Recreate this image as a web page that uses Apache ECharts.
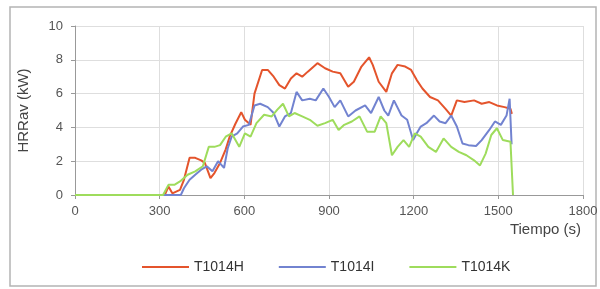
<!DOCTYPE html>
<html>
<head>
<meta charset="utf-8">
<script src="https://cdn.jsdelivr.net/npm/echarts@6/dist/echarts.min.js"></script>
<style>
	html, body { margin: 0; padding: 0; background: #fff; }
	#main { width: 600px; height: 289px; }
</style>
</head>
<body>
<div id="main"></div>
<script>
	// T1014H
	var tH = [0, 318, 331, 345, 372, 386, 406, 426, 447, 460, 480, 494, 514, 534, 548, 568, 589, 602, 622, 636, 663, 683, 704, 724, 744, 765, 785, 805, 825, 859, 886, 913, 940, 968, 988, 1015, 1042, 1055, 1076, 1103, 1123, 1143, 1170, 1191, 1211, 1231, 1258, 1286, 1313, 1333, 1353, 1380, 1414, 1441, 1468, 1495, 1522, 1543, 1548];
	var vH = [0, 0, 0.5, 0.1, 0.3, 0.9, 2.2, 2.2, 2.05, 1.9, 1.0, 1.3, 1.9, 2.7, 3.45, 4.2, 4.9, 4.45, 4.15, 6.0, 7.4, 7.4, 7.0, 6.5, 6.3, 6.9, 7.2, 7.0, 7.3, 7.8, 7.5, 7.3, 7.2, 6.4, 6.7, 7.6, 8.15, 7.7, 6.7, 6.1, 7.2, 7.7, 7.6, 7.4, 6.8, 6.3, 5.8, 5.6, 5.1, 4.7, 5.6, 5.5, 5.6, 5.4, 5.5, 5.3, 5.2, 5.1, 4.8];
	// T1014I
	var tI = [0, 375, 386, 406, 426, 447, 467, 487, 507, 528, 541, 555, 575, 595, 616, 636, 656, 683, 704, 724, 744, 765, 785, 805, 832, 853, 880, 900, 920, 940, 968, 994, 1028, 1049, 1076, 1096, 1110, 1130, 1157, 1177, 1198, 1211, 1225, 1245, 1272, 1292, 1313, 1333, 1353, 1373, 1394, 1421, 1441, 1468, 1488, 1509, 1529, 1540, 1547];
	var vI = [0, 0, 0.4, 0.9, 1.2, 1.5, 1.7, 1.4, 2.0, 1.6, 2.75, 3.45, 3.65, 4.05, 4.15, 5.3, 5.4, 5.2, 4.85, 4.05, 4.65, 4.85, 6.1, 5.6, 5.7, 5.6, 6.3, 5.8, 5.2, 5.6, 4.65, 5.0, 5.3, 4.85, 5.8, 5.0, 4.7, 5.6, 4.7, 4.45, 3.25, 3.65, 4.05, 4.25, 4.7, 4.35, 4.25, 4.7, 4.05, 3.05, 2.95, 2.9, 3.25, 3.85, 4.35, 4.15, 4.7, 5.7, 3.0];
	// T1014K
	var tK = [0, 312, 331, 352, 372, 399, 426, 453, 474, 494, 514, 534, 555, 582, 602, 622, 643, 670, 697, 717, 737, 758, 778, 805, 832, 859, 886, 913, 934, 954, 981, 1008, 1035, 1062, 1083, 1103, 1123, 1143, 1164, 1184, 1204, 1225, 1252, 1279, 1306, 1333, 1360, 1387, 1414, 1435, 1455, 1475, 1495, 1516, 1543, 1552];
	var vK = [0, 0, 0.6, 0.6, 0.8, 1.2, 1.4, 1.7, 2.85, 2.85, 2.95, 3.45, 3.65, 2.85, 3.65, 3.45, 4.25, 4.75, 4.65, 5.05, 5.4, 4.65, 4.85, 4.65, 4.45, 4.1, 4.25, 4.45, 3.85, 4.15, 4.35, 4.65, 3.75, 3.75, 4.65, 4.25, 2.35, 2.85, 3.25, 2.85, 3.65, 3.45, 2.85, 2.55, 3.35, 2.85, 2.55, 2.35, 2.05, 1.75, 2.45, 3.55, 3.95, 3.25, 3.15, 0];

	var seriesNames = ['T1014H', 'T1014I', 'T1014K'];
	var xTicks = ['0', '300', '600', '900', '1200', '1500', '1800'];

	function pairs(t, v) {
		let out = [];
		for (let i = 0; i < t.length; i++) {
			out.push([t[i], v[i]]);
		}
		return out;
	}

	var myChart = echarts.init(document.getElementById('main'));
	var font = 'Liberation Sans, Arial, sans-serif';

	var option = {
		animation: false,
		backgroundColor: '#fff',
		textStyle: { fontFamily: font },
		graphic: [{
			type: 'rect',
			shape: { x: 10, y: 7, width: 586, height: 279 },
			style: { fill: 'none', stroke: '#b4b4b4', lineWidth: 1.5 },
			z: -1
		}],
		// x axis name sits under the 1800 label, right-aligned with the plot
		title: {
			text: 'Tiempo (s)',
			right: 14,
			top: 217,
			textStyle: { fontSize: 15, fontWeight: 'normal', color: '#444', fontFamily: font }
		},
		grid: { left: 75, right: 17, top: 26, bottom: 94, containLabel: false, outerBoundsMode: 'none' },
		legend: {
			left: 137,
			top: 255,
			icon: 'rect',
			itemWidth: 47,
			itemHeight: 2,
			itemGap: 35,
			textStyle: { fontSize: 14, color: '#333', fontFamily: font },
			data: seriesNames
		},
		xAxis: {
			type: 'value',
			min: 0,
			max: 1800,
			interval: 300,
			axisLine: { lineStyle: { color: '#999' } },
			axisTick: { show: true, length: 4, lineStyle: { color: '#999' } },
			axisLabel: {
				margin: 10, fontSize: 13, color: '#555',
				formatter: function (v) { return xTicks[Math.round(v / 300)]; }
			},
			splitLine: { lineStyle: { color: '#dedede' } }
		},
		yAxis: {
			type: 'value',
			min: 0,
			max: 10,
			interval: 2,
			name: 'HRRav (kW)',
			nameLocation: 'middle',
			nameGap: 44,
			nameTextStyle: { fontSize: 15, color: '#444' },
			axisLine: { show: true, lineStyle: { color: '#999' } },
			axisTick: { show: true, length: 4, lineStyle: { color: '#999' } },
			axisLabel: { margin: 12, fontSize: 13, color: '#555' },
			splitLine: { lineStyle: { color: '#dedede' } }
		},
		series: [{
			name: 'T1014H',
			type: 'line',
			data: pairs(tH, vH),
			symbol: 'none',
			lineStyle: { width: 2, color: '#e4542c' },
			itemStyle: { color: '#e4542c' }
		}, {
			name: 'T1014I',
			type: 'line',
			data: pairs(tI, vI),
			symbol: 'none',
			lineStyle: { width: 2, color: '#7283d0' },
			itemStyle: { color: '#7283d0' }
		}, {
			name: 'T1014K',
			type: 'line',
			data: pairs(tK, vK),
			symbol: 'none',
			lineStyle: { width: 2, color: '#9edc5c' },
			itemStyle: { color: '#9edc5c' }
		}]
	};

	option && myChart.setOption(option);
</script>
</body>
</html>
